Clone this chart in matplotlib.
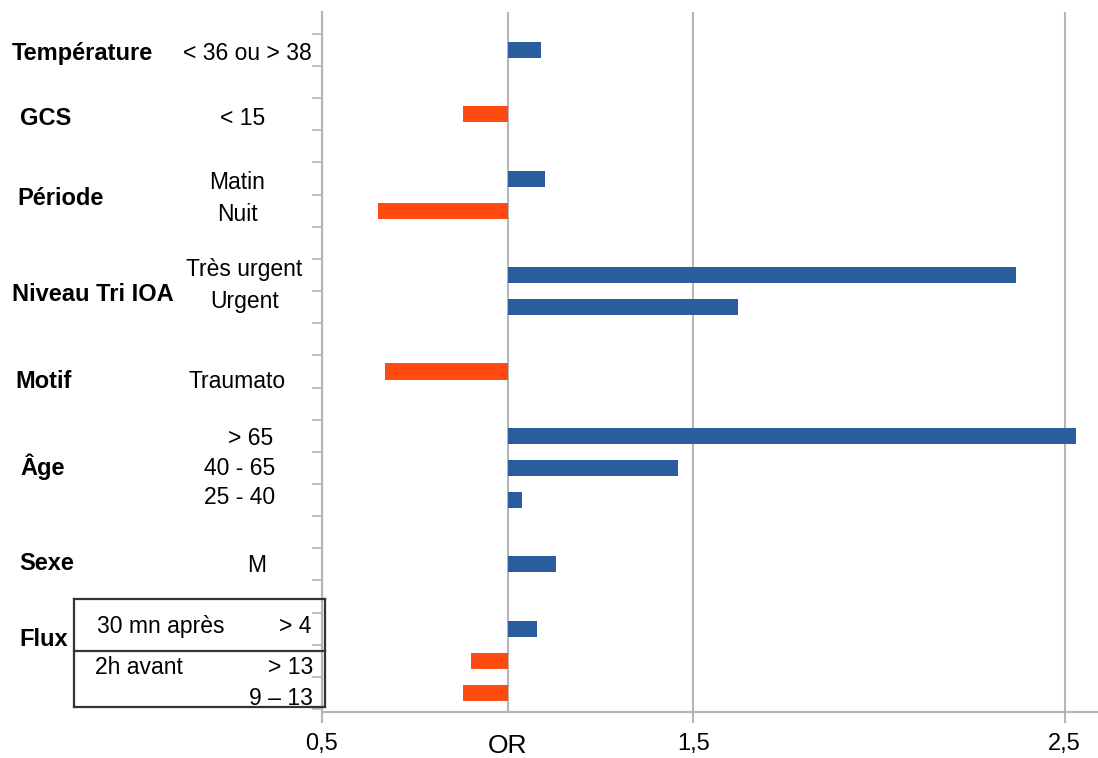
import numpy as np
import matplotlib
matplotlib.use("Agg")
import matplotlib.pyplot as plt
from matplotlib.transforms import blended_transform_factory

plt.rcParams['font.family'] = ['Liberation Sans', 'DejaVu Sans']

# donnees (OR)
groupes = ["Température", "GCS", "Période", "Niveau Tri IOA", "Motif", "Âge", "Sexe", "Flux"]
modalites = [["< 36 ou > 38"], ["< 15"], ["Matin", "Nuit"], ["Très urgent", "Urgent"],
             ["Traumato"], ["> 65", "40 - 65", "25 - 40"], ["M"], ["> 4", "> 13", "9 – 13"]]
odds = [[1.09], [0.88], [1.10, 0.65], [2.37, 1.62], [0.67], [2.53, 1.46, 1.04], [1.13],
        [1.08, 0.90, 0.88]]
xticks_val = [0.5, 1.5, 2.5]
xticks_lab = ["0,5", "1,5", "2,5"]

BLEU = '#2b5c9b'
ORANGE = '#ff4a12'
GRIS = '#b5b5b5'
FS = 16.5

# position des lignes : une ligne vide entre chaque groupe
rangs = []
r = 0
for m in modalites:
    rangs.append(list(range(r, r + len(m))))
    r += len(m) + 1

fig = plt.figure(figsize=(10.98, 7.58), dpi=100)
ax = fig.add_axes([322 / 1098, 1 - 712 / 758, 1 - 322 / 1098, 700 / 758])

for rg, vals in zip(rangs, odds):
    for y, v in zip(rg, vals):
        ax.barh(y, v - 1, left=1, height=0.5, color=BLEU if v >= 1 else ORANGE, zorder=3)

ax.set_xlim(0.5, 2.59)
ax.set_ylim(20.59, -1.18)
ax.axvline(1.0, color=GRIS, lw=1.5, zorder=1)
ax.set_xticks(xticks_val)
ax.set_xticklabels(xticks_lab, fontsize=17)
ax.grid(axis='x', color=GRIS, lw=1.5, zorder=0)
ax.set_yticks(np.arange(-0.5, 21, 1))
ax.set_yticklabels([])
ax.tick_params(axis='y', length=7, width=1.2, color=GRIS, direction='out')
ax.tick_params(axis='x', length=8, width=1.5, color=GRIS, pad=7)
for s in ['top', 'right']:
    ax.spines[s].set_visible(False)
for s in ['left', 'bottom']:
    ax.spines[s].set_color(GRIS)
    ax.spines[s].set_linewidth(1.5)

ax.text(1.0, 1 - 746 / 758, "OR", transform=blended_transform_factory(ax.transData, fig.transFigure),
        ha='center', va='center', fontsize=19)

tr = blended_transform_factory(fig.transFigure, ax.transData)
px = lambda x: x / 1098
dy = 0.12  # le texte est un peu plus bas que les barres

# libelles des groupes (gras)
gx = [12, 20, 17, 12, 15, 20, 19, 19]
gdecal = {"Motif": 0.2, "Âge": -0.15, "Sexe": -0.15, "Flux": -0.1}
for g, rg, x in zip(groupes, rangs, gx):
    yc = (rg[0] + rg[-1]) / 2
    if g == "Flux":
        yc = rg[0] + 0.3
    ax.text(px(x), yc + dy + gdecal.get(g, 0), g, transform=tr, ha='left', va='center',
            fontsize=17, fontweight='bold', clip_on=False)

# libelles des modalites
decal = {"Très urgent": -0.3, "Urgent": -0.3, "Traumato": 0.2, "> 65": -0.05,
         "40 - 65": -0.1, "25 - 40": -0.2, "M": -0.1, "> 4": -0.2, "> 13": 0.1,
         "9 – 13": 0.05}
droite = {"< 36 ou > 38": 312, "> 65": 273, "> 4": 311, "> 13": 313, "9 – 13": 313}
centre = {"< 15": 243, "Matin": 237, "Nuit": 237, "Très urgent": 244, "Urgent": 245,
          "Traumato": 237, "40 - 65": 240, "25 - 40": 240, "M": 257}
for mods, rg in zip(modalites, rangs):
    for m, y in zip(mods, rg):
        yy = y + decal.get(m, 0) + dy
        if m in droite:
            ax.text(px(droite[m]), yy, m, transform=tr, ha='right', va='center',
                    fontsize=FS, clip_on=False)
        else:
            ax.text(px(centre[m]), yy, m, transform=tr, ha='center', va='center',
                    fontsize=FS, clip_on=False)

# cadre Flux
fy = rangs[-1]
ax.text(px(97), fy[0] - 0.2 + dy, "30 mn après", transform=tr, ha='left', va='center',
        fontsize=FS, clip_on=False)
ax.text(px(95), fy[1] + 0.1 + dy, "2h avant", transform=tr, ha='left', va='center',
        fontsize=FS, clip_on=False)
bx0, bx1 = px(74), px(325)
yt, ym, yb = fy[0] - 0.92, fy[0] + 0.7, fy[-1] + 0.43
for xs, ys in [([bx0, bx1], [yt, yt]), ([bx0, bx1], [ym, ym]), ([bx0, bx1], [yb, yb]),
               ([bx0, bx0], [yt, yb]), ([bx1, bx1], [yt, yb])]:
    ax.plot(xs, ys, transform=tr, color='#333333', lw=1.6, clip_on=False, zorder=5)

fig.savefig("out.png", dpi=100)
